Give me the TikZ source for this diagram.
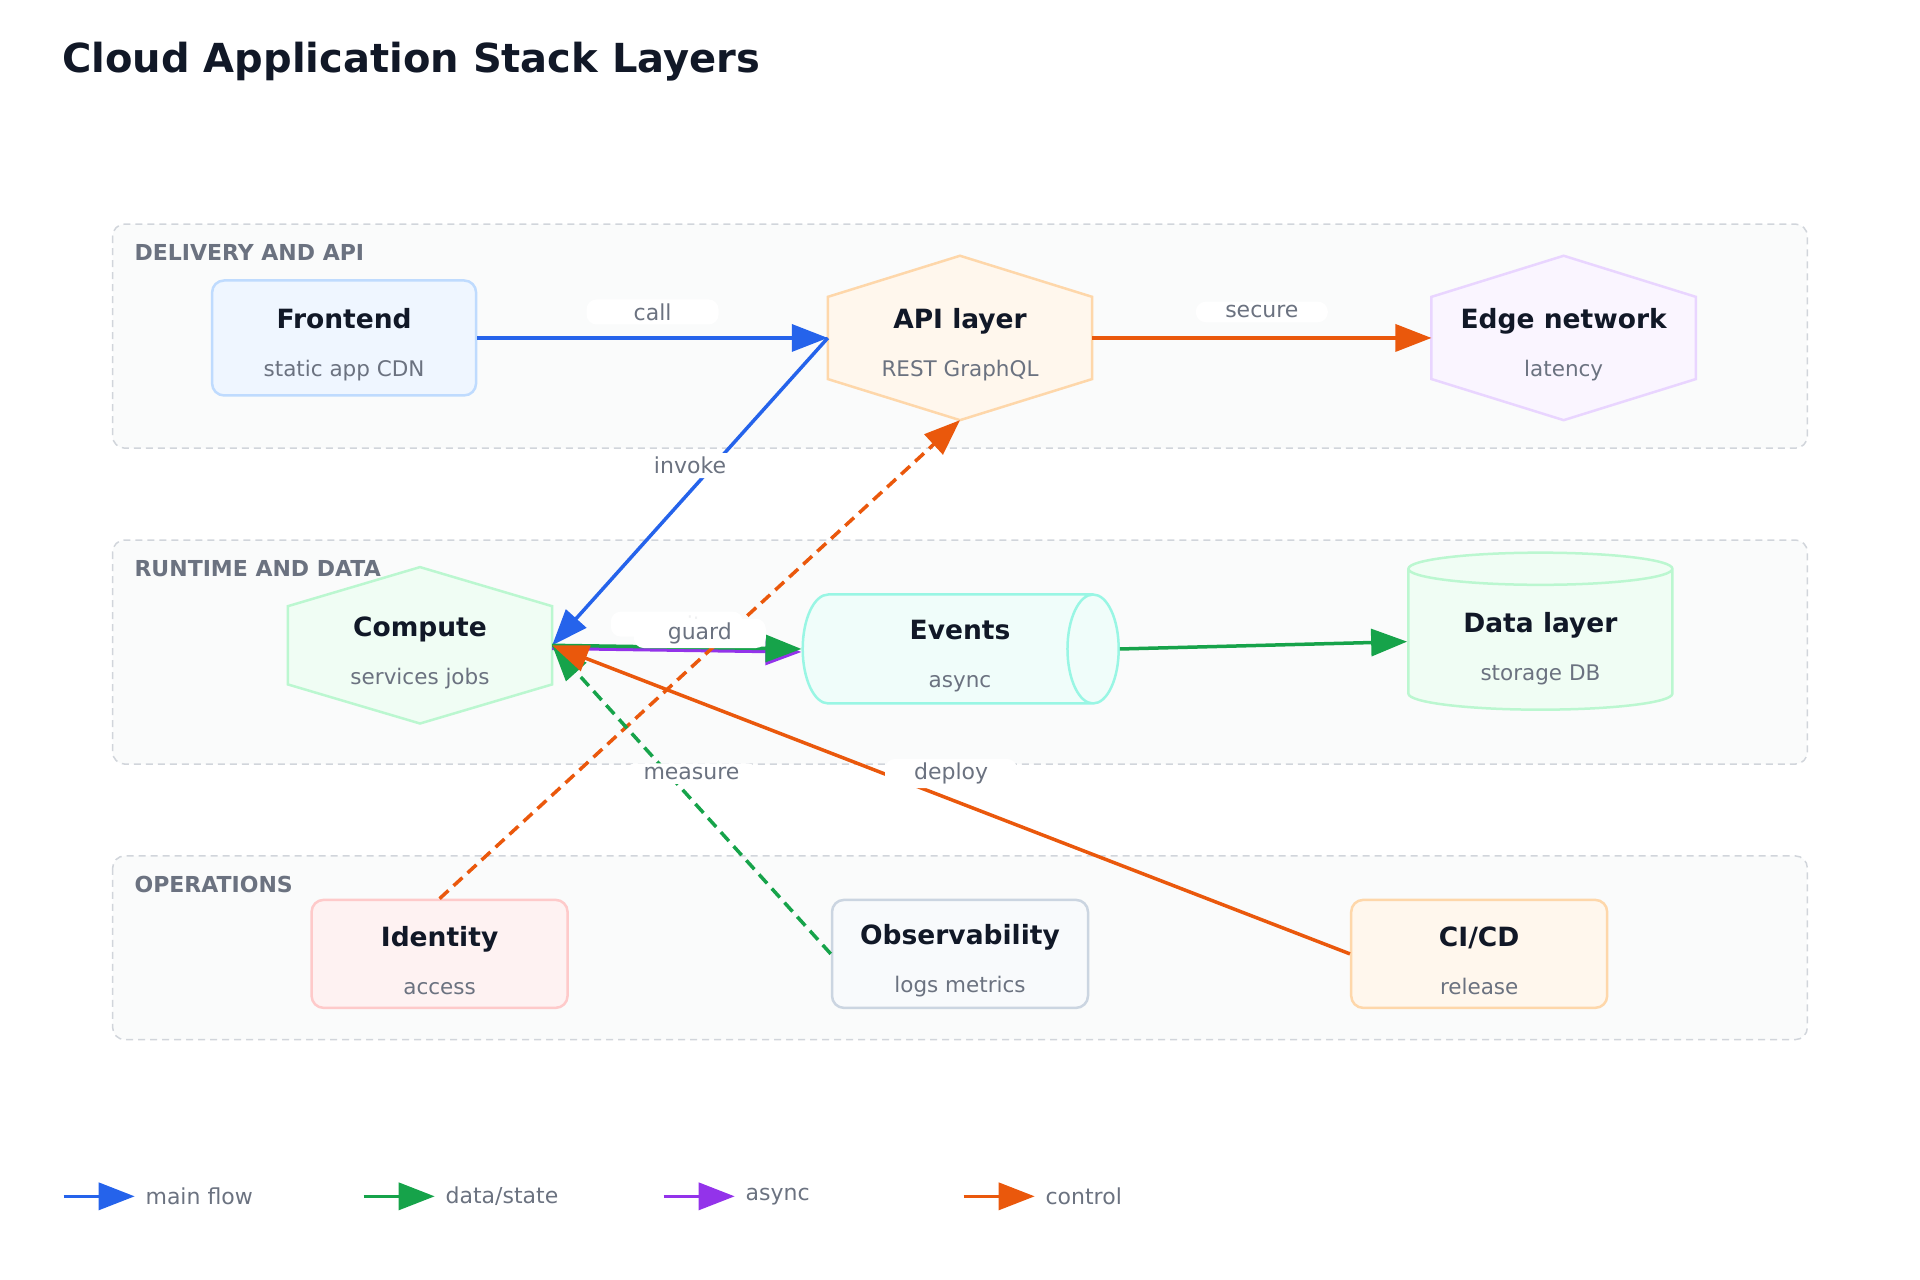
\documentclass[tikz,border=0pt]{standalone}
\usepackage{fontspec}
\setmainfont{DejaVu Sans}
\usepackage{tikz}
\usetikzlibrary{arrows.meta,shapes.geometric,calc}

\definecolor{cmain}{HTML}{2563EB}
\definecolor{cdata}{HTML}{16A34A}
\definecolor{casync}{HTML}{9333EA}
\definecolor{cctrl}{HTML}{EA580C}
\definecolor{ink}{HTML}{111827}
\definecolor{muted}{HTML}{6B7280}
\definecolor{bluefill}{HTML}{EFF6FF}\definecolor{blueline}{HTML}{BFDBFE}
\definecolor{orgfill}{HTML}{FFF7ED}\definecolor{orgline}{HTML}{FED7AA}
\definecolor{vilfill}{HTML}{FAF5FF}\definecolor{villine}{HTML}{E9D5FF}
\definecolor{grnfill}{HTML}{F0FDF4}\definecolor{grnline}{HTML}{BBF7D0}
\definecolor{tealfill}{HTML}{F0FDFA}\definecolor{tealline}{HTML}{99F6E4}
\definecolor{redfill}{HTML}{FEF2F2}\definecolor{redline}{HTML}{FECACA}
\definecolor{grayfill}{HTML}{F8FAFC}\definecolor{grayline}{HTML}{CBD5E1}
\definecolor{layerfill}{HTML}{FAFBFB}\definecolor{layerline}{HTML}{D1D5DB}

% two-line node text
\newcommand{\boxtext}[2]{\rule{0pt}{34pt}{\bfseries\color{ink}#1}\\[18pt]{\fontsize{21.5}{24}\selectfont\color{muted}#2}}
% hexagon drawn around a named invisible node
\newcommand{\hexnode}[6]{%
  \node[hexbox] (#1) at (#2) {};
  \draw[#3,fill=#4] (#1.north) -- ($(#1.north east)!0.25!(#1.south east)$) -- ($(#1.north east)!0.75!(#1.south east)$)
    -- (#1.south) -- ($(#1.north west)!0.75!(#1.south west)$) -- ($(#1.north west)!0.25!(#1.south west)$) -- cycle;
  \node[hexbox] at (#1) {\boxtext{#5}{#6}};}

\begin{document}
\begin{tikzpicture}
[
  x=1.2245pt, y=-1.2245pt,
  font=\fontsize{26.5}{30}\selectfont,
  group/.style  = {draw=layerline, dashed, dash pattern=on 7pt off 5pt, line width=1.5pt,
                   fill=layerfill, rounded corners=12pt},
  grouplabel/.style = {anchor=west, font=\fontsize{22}{24}\selectfont\bfseries, text=muted},
  card/.style   = {shape=rectangle, rounded corners=12pt, line width=2.5pt, align=center,
                   minimum width=256pt, minimum height=108pt},
  hexbox/.style = {shape=rectangle, align=center, minimum width=264pt, minimum height=164pt},
  drum/.style   = {shape=cylinder, line width=2.5pt, align=center},
  flow/.style   = {line width=3.5pt, -{Triangle[length=36pt,width=27pt]}},
  lbl/.style    = {fill=white, rounded corners=10pt, text=muted, yshift=26pt,
                   font=\fontsize{22}{24}\selectfont, minimum width=132pt, inner sep=4pt},
  key/.style    = {anchor=west, text=muted, font=\fontsize{22}{24}\selectfont}
]
\useasboundingbox (0,0) rectangle (1568,1045);

\node[anchor=west, font=\fontsize{40}{46}\selectfont\bfseries, text=ink] (title) at (48,50) {Cloud Application Stack Layers};

% layers
\draw[group] (92,183) rectangle (1476,366);
\draw[group] (92,441) rectangle (1476,624);
\draw[group] (92,699) rectangle (1476,849);
\node[grouplabel] (g1) at (107,206) {DELIVERY AND API};
\node[grouplabel] (g2) at (107,464) {RUNTIME AND DATA};
\node[grouplabel] (g3) at (107,722) {OPERATIONS};

% nodes
\node[card, draw=blueline, fill=bluefill, minimum width=264pt, minimum height=115pt] (front) at (281,276) {\boxtext{Frontend}{static app CDN}};
\hexnode{api}{784,276}{draw=orgline,line width=2.5pt}{orgfill}{API layer}{REST GraphQL}
\hexnode{edge}{1277,276}{draw=villine,line width=2.5pt}{vilfill}{Edge network}{latency}
\node[hexbox, minimum height=156pt] (compute) at (343,527) {};
\draw[draw=grnline,line width=2.5pt,fill=grnfill] (compute.north) -- ($(compute.north east)!0.25!(compute.south east)$) -- ($(compute.north east)!0.75!(compute.south east)$)
    -- (compute.south) -- ($(compute.north west)!0.75!(compute.south west)$) -- ($(compute.north west)!0.25!(compute.south west)$) -- cycle;
\node[hexbox, minimum height=156pt] at (compute) {\boxtext{Compute}{services jobs}};
\node[drum, draw=tealline, fill=tealfill, minimum height=316pt, minimum width=109pt, aspect=0.55, text opacity=0] (events) at (770,530) {\boxtext{Events}{async}};
\node[align=center] (eventstext) at (784,530) {\boxtext{Events}{async}};
\node[drum, shape border rotate=90, draw=grnline, fill=grnfill, minimum height=157pt, minimum width=264pt, aspect=0.2] (data) at (1258,524) {\boxtext{Data layer}{storage DB}};
\node[card, draw=redline, fill=redfill] (ident) at (359,779) {\boxtext{Identity}{access}};
\node[card, draw=grayline, fill=grayfill] (obs) at (784,779) {\boxtext{Observability}{logs metrics}};
\node[card, draw=orgline, fill=orgfill] (cicd) at (1208,779) {\boxtext{CI/CD}{release}};

% connectors
\draw[flow, cmain] (front.east) -- node[lbl] {call} (api.west);
\draw[flow, cctrl] (api.east) -- node[lbl] {secure} (edge.west);
\draw[flow, cmain] (api.west) -- node[lbl] {invoke} (compute.east);
\draw[flow, casync] ([yshift=-3pt]compute.east) -- node[lbl, text=muted!10] {emit} ([yshift=-3pt]events.west);
\draw[flow, cdata] (compute.east) -- (events.west);
\draw[flow, cdata] (events.east) -- (data.west);
\draw[flow, cctrl, dashed, dash pattern=on 12pt off 7pt] (ident.north) -- node[lbl] {guard} (api.south);
\draw[flow, cdata, dashed, dash pattern=on 12pt off 7pt] (obs.west) -- node[lbl] {measure} (compute.east);
\draw[flow, cctrl] (cicd.west) -- node[lbl] {deploy} (compute.east);

% legend
\foreach \x/\c/\t [count=\i] in {52/cmain/main flow, 297/cdata/{data/state}, 542/casync/async, 787/cctrl/control} {
  \coordinate (k\i a) at (\x,977);
  \coordinate (k\i b) at (\x+58,977);
  \draw[flow, \c] (k\i a) -- (k\i b);
  \node[key] (k\i) at (\x+64,977) {\t};
}
\end{tikzpicture}
\end{document}
